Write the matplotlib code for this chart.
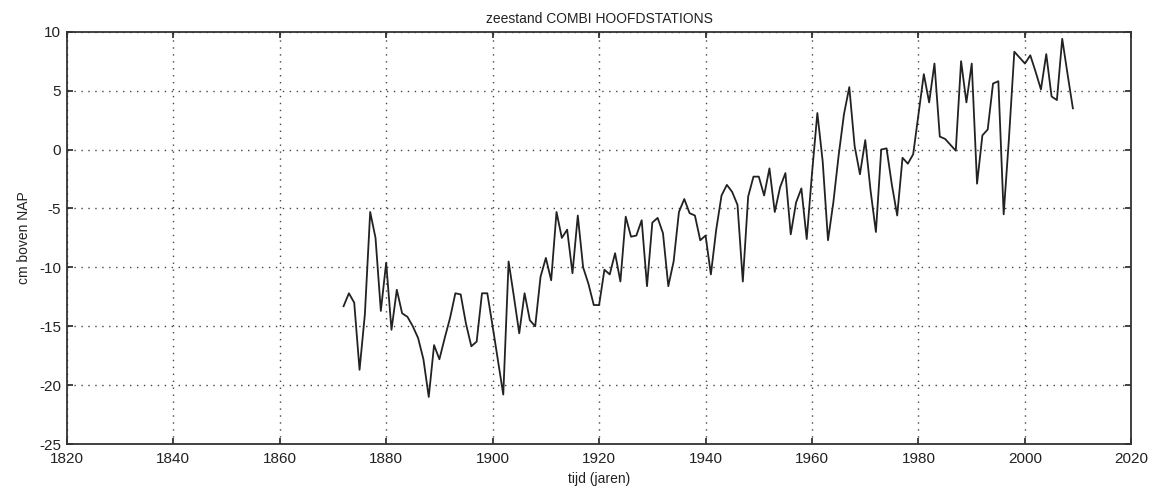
import numpy as np
import matplotlib
matplotlib.use("Agg")
import matplotlib.pyplot as plt

plt.rcParams['font.family'] = ['Liberation Sans', 'DejaVu Sans']
plt.rcParams['axes.unicode_minus'] = False

# yearly mean sea level, combined main tide-gauge stations (cm relative to NAP)
years = list(range(1872, 2010))
sea_level = [
    -13.3, -12.2, -13.0, -18.7, -14.0, -5.3, -7.5, -13.7, -9.6, -15.3,   # 1872-1881
    -11.9, -13.9, -14.2, -15.0, -16.0, -17.8, -21.0, -16.6, -17.8, -16.0,  # 1882-1891
    -14.3, -12.2, -12.3, -14.8, -16.7, -16.3, -12.2, -12.2, -15.0, -17.9,  # 1892-1901
    -20.8, -9.5, -12.5, -15.6, -12.2, -14.5, -15.0, -10.8, -9.2, -11.1,    # 1902-1911
    -5.3, -7.5, -6.8, -10.5, -5.6, -10.0, -11.4, -13.2, -13.2, -10.2,      # 1912-1921
    -10.6, -8.8, -11.2, -5.7, -7.4, -7.3, -6.0, -11.6, -6.2, -5.8,         # 1922-1931
    -7.1, -11.6, -9.5, -5.3, -4.2, -5.4, -5.6, -7.7, -7.3, -10.6,          # 1932-1941
    -6.8, -3.9, -3.0, -3.6, -4.7, -11.2, -4.0, -2.3, -2.3, -3.9,           # 1942-1951
    -1.6, -5.3, -3.2, -2.0, -7.2, -4.5, -3.3, -7.6, -2.0, 3.1,             # 1952-1961
    -1.0, -7.7, -4.5, -0.5, 3.0, 5.3, 0.3, -2.1, 0.8, -3.5,                # 1962-1971
    -7.0, 0.0, 0.1, -3.0, -5.6, -0.7, -1.2, -0.4, 3.0, 6.4,                # 1972-1981
    4.0, 7.3, 1.1, 0.9, 0.4, -0.1, 7.5, 4.0, 7.3, -2.9,                    # 1982-1991
    1.2, 1.7, 5.6, 5.8, -5.5, 1.0, 8.3, 7.8, 7.3, 8.0,                     # 1992-2001
    6.6, 5.1, 8.1, 4.5, 4.2, 9.4, 6.4, 3.5,                                # 2002-2009
]

x_ticks = list(range(1820, 2021, 20))
y_ticks = list(range(-25, 11, 5))

fig = plt.figure(figsize=(11.51, 4.88), dpi=100)
ax = fig.add_axes([0.058, 0.09, 0.925, 0.845])

ax.plot(years, sea_level, color='#222222', linewidth=1.3)

ax.set_xlim(1820, 2020)
ax.set_ylim(-25, 10)
ax.set_xticks(x_ticks)
ax.set_yticks(y_ticks)
ax.tick_params(direction='in', length=4, width=1.2, labelsize=11,
               top=True, right=True, colors='#222222')
ax.tick_params(axis='x', pad=6)
ax.tick_params(axis='y', pad=4)
ax.grid(True, linestyle=(0, (1, 4)), color='#444444', linewidth=1.0)

for sp in ax.spines.values():
    sp.set_color('#333333')
    sp.set_linewidth(1.3)

ax.set_title('zeestand COMBI HOOFDSTATIONS', fontsize=10, pad=6, color='#222222')
ax.set_xlabel('tijd (jaren)', fontsize=10, labelpad=4, color='#222222')
ax.set_ylabel('cm boven NAP', fontsize=10, labelpad=6, color='#222222')

fig.savefig('out.png', dpi=100)
